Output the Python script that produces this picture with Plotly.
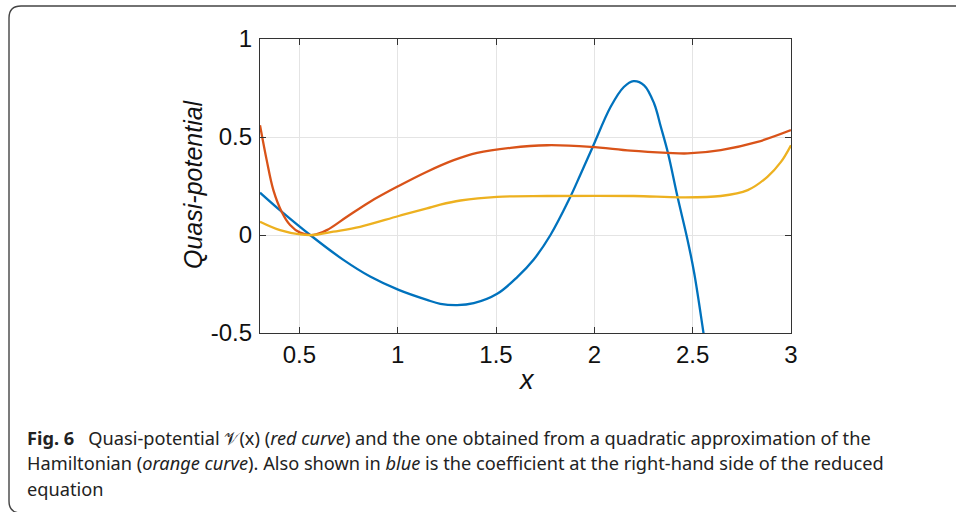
import plotly.graph_objects as go

# ---- data ----
red_x = [0.30, 0.334, 0.368, 0.41, 0.453, 0.504, 0.572, 0.64, 0.742, 0.86, 1.005, 1.149, 1.285, 1.404,
         1.574, 1.76, 1.981, 2.185, 2.372, 2.474, 2.643, 2.83, 3.0]
red_y = [0.56, 0.382, 0.229, 0.119, 0.051, 0.012, 0.0, 0.025, 0.093, 0.17, 0.25, 0.323, 0.382, 0.419,
         0.445, 0.458, 0.45, 0.43, 0.419, 0.416, 0.433, 0.475, 0.535]

orange_x = [0.30, 0.402, 0.504, 0.572, 0.673, 0.809, 1.005, 1.149, 1.217, 1.319, 1.506, 1.76, 2.2, 2.44,
            2.643, 2.78, 2.88, 2.949, 3.0]
orange_y = [0.068, 0.025, 0.003, 0.0, 0.017, 0.042, 0.097, 0.136, 0.155, 0.176, 0.195, 0.199, 0.199, 0.192,
            0.199, 0.229, 0.297, 0.373, 0.458]

blue_x = [0.30, 0.41, 0.555, 0.724, 0.86, 1.005, 1.149, 1.217, 1.302, 1.387, 1.506, 1.608, 1.692, 1.777,
          1.87, 1.93, 1.99, 2.083, 2.15, 2.199, 2.253, 2.304, 2.338, 2.375, 2.423, 2.474, 2.508, 2.555, 2.60]
blue_y = [0.216, 0.119, 0.0, -0.127, -0.212, -0.28, -0.331, -0.351, -0.358, -0.348, -0.30, -0.215, -0.125, 0.0,
          0.178, 0.31, 0.445, 0.654, 0.755, 0.785, 0.764, 0.671, 0.552, 0.416, 0.195, -0.025, -0.195, -0.5, -0.82]

x_ticks = [0.5, 1, 1.5, 2, 2.5, 3]
x_tick_labels = ["0.5", "1", "1.5", "2", "2.5", "3"]
y_ticks = [-0.5, 0, 0.5, 1]
y_tick_labels = ["-0.5", "0", "0.5", "1"]

caption_lines = [
    "<b>Fig. 6</b>   Quasi-potential 𝒱(x) (<i>red curve</i>) and the one obtained from a quadratic approximation of the",
    "Hamiltonian (<i>orange curve</i>). Also shown in <i>blue</i> is the coefficient at the right-hand side of the reduced",
    "equation",
]

W, H = 956, 512
L, R, T, B = 260, 791, 39, 333

def px(xp):
    return (xp - L) / (R - L)

def py(yp):
    return (B - yp) / (B - T)

BLUE, RED, YEL = "#0072BD", "#D95319", "#EDB120"

fig = go.Figure()
for xs, ys, c in [(blue_x, blue_y, BLUE), (red_x, red_y, RED), (orange_x, orange_y, YEL)]:
    fig.add_trace(go.Scatter(x=xs, y=ys, mode="lines",
                             line=dict(color=c, width=2.3, shape="spline", smoothing=1.0)))

axis_common = dict(
    showgrid=True, gridcolor="#e4e4e4", gridwidth=1,
    showline=True, linecolor="#333333", linewidth=1.2,
    mirror="ticks", ticks="inside", ticklen=6, tickcolor="#333333", tickwidth=1,
    zeroline=False,
    tickfont=dict(family="Liberation Sans, Arial, sans-serif", size=24, color="#111111"),
)

fig.update_xaxes(range=[0.3, 3], tickvals=x_ticks, ticktext=x_tick_labels, **axis_common)
fig.update_yaxes(range=[-0.5, 1], tickvals=y_ticks, ticktext=y_tick_labels, ticklabelstandoff=2, **axis_common)

ann = []
ann.append(dict(text="<i>Quasi-potential</i>", xref="paper", yref="paper", x=px(193), y=py(184),
                textangle=-90, showarrow=False, xanchor="center", yanchor="middle",
                font=dict(family="Liberation Sans, Arial, sans-serif", size=25, color="#111111")))
ann.append(dict(text="<i>x</i>", xref="paper", yref="paper", x=px(526), y=py(380),
                showarrow=False, xanchor="center", yanchor="middle",
                font=dict(family="Liberation Sans, Arial, sans-serif", size=27, color="#111111")))
cap_y = [438, 463.5, 489]
for line, yy in zip(caption_lines, cap_y):
    ann.append(dict(text=line, xref="paper", yref="paper", x=px(25), y=py(yy),
                    showarrow=False, xanchor="left", yanchor="middle", align="left",
                    font=dict(family="Noto Sans, Open Sans, sans-serif", size=18.2, color="#222222")))

r = 12
x0, y0, y1, xr = 9, 6, 513, 970
path = (f"M {px(xr)} {py(y0)} L {px(x0 + r)} {py(y0)} Q {px(x0)} {py(y0)} {px(x0)} {py(y0 + r)} "
        f"L {px(x0)} {py(y1 - r)} Q {px(x0)} {py(y1)} {px(x0 + r)} {py(y1)} L {px(xr)} {py(y1)}")

fig.update_layout(
    width=W, height=H,
    margin=dict(l=L, r=W - R, t=T, b=H - B),
    paper_bgcolor="white", plot_bgcolor="white",
    showlegend=False,
    annotations=ann,
    shapes=[dict(type="path", path=path, xref="paper", yref="paper",
                 line=dict(color="#444444", width=1.4), layer="below")],
)

fig.write_html("out.html", config={"displayModeBar": False},
               post_script="document.body.style.margin='0px';document.body.style.overflow='hidden';")
